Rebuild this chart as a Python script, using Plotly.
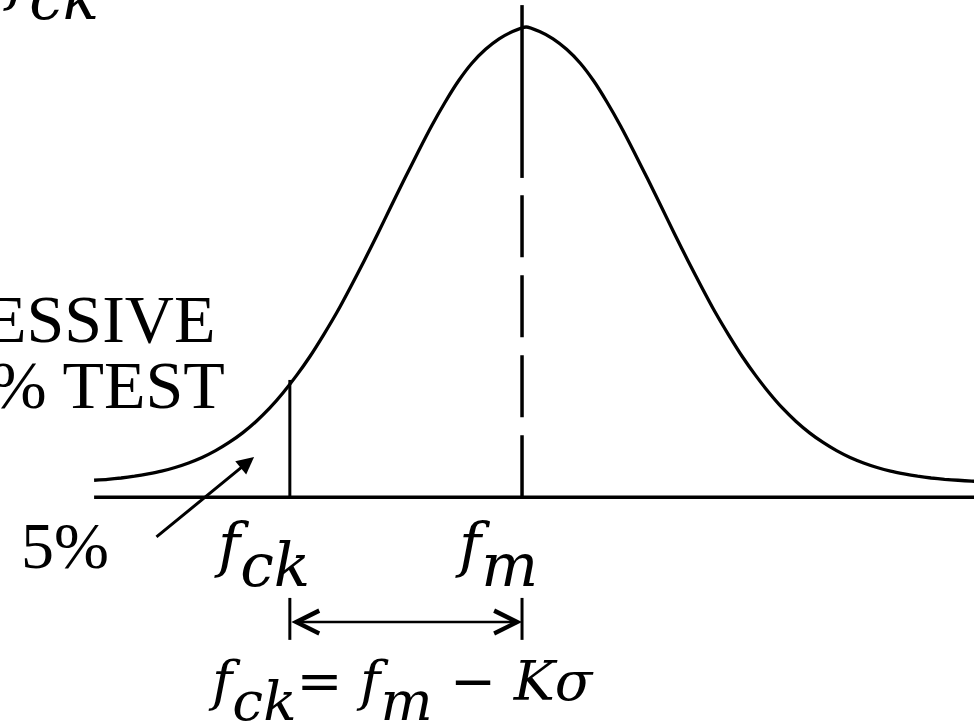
import plotly.graph_objects as go

# ---- data -----------------------------------------------------------------
# normal curve: position in units of sigma from the curve centre,
# height relative to the peak
curve_z = [-3.2, -3.1, -3.0, -2.9, -2.8, -2.7, -2.6, -2.5, -2.4, -2.3, -2.2,
           -2.1, -2.0, -1.9, -1.8, -1.7, -1.6, -1.5, -1.4, -1.3, -1.2, -1.1,
           -1.0, -0.9, -0.8, -0.7, -0.6, -0.5, -0.4, -0.3, -0.2, -0.1, 0.0,
           0.1, 0.2, 0.3, 0.4, 0.5, 0.6, 0.7, 0.8, 0.9, 1.0, 1.1, 1.2, 1.3,
           1.4, 1.5, 1.6, 1.7, 1.8, 1.9, 2.0, 2.1, 2.2, 2.3, 2.4, 2.5, 2.6,
           2.7, 2.8, 2.9, 3.0, 3.1, 3.2, 3.3, 3.4, 3.5]
curve_h = [0.006, 0.008, 0.011, 0.015, 0.020, 0.026, 0.034, 0.044, 0.056,
           0.071, 0.089, 0.110, 0.135, 0.164, 0.198, 0.236, 0.278, 0.325,
           0.375, 0.430, 0.487, 0.546, 0.607, 0.667, 0.726, 0.783, 0.835,
           0.882, 0.921, 0.951, 0.974, 0.990, 1.000,
           0.990, 0.974, 0.951, 0.921, 0.882, 0.835, 0.783, 0.726, 0.667,
           0.607, 0.546, 0.487, 0.430, 0.375, 0.325, 0.278, 0.236, 0.198,
           0.164, 0.135, 0.110, 0.089, 0.071, 0.056, 0.044, 0.034, 0.026,
           0.020, 0.015, 0.011, 0.008, 0.006, 0.004, 0.003, 0.002]
curve_centre = 0.03          # curve centre (sigma) relative to f_m line
f_m = 0.0                    # mean strength position
f_ck = -1.72                 # characteristic strength position
f_ck_height = 0.226          # curve height at f_ck
axis_level = -0.031          # baseline of the diagram
top_level = 1.048            # top of the f_m line
solid_from = 0.669           # f_m line is solid above this level
arrow_level = -0.305         # double arrow  f_ck <-> f_m
tick_top, tick_bottom = -0.252, -0.344
pct_tail = (-2.719, -0.121)  # "5%" pointer
pct_head = (-1.985, 0.057)
axis_left, axis_right = -3.17, 3.6
x_range = [-3.867, 3.348]
y_range = [-0.5241, 1.0592]

BLACK = "#000000"
SERIF = "Liberation Serif"
MATH = "DejaVu Serif"

fig = go.Figure()
fig.add_trace(go.Scatter(
    x=[z + curve_centre for z in curve_z], y=curve_h, mode="lines",
    line=dict(color=BLACK, width=3.3, shape="spline", smoothing=0.5),
    hoverinfo="skip", showlegend=False))

shapes = [
    dict(type="line", x0=axis_left, x1=axis_right, y0=axis_level, y1=axis_level,
         line=dict(color=BLACK, width=3.5)),
    dict(type="line", x0=f_ck, x1=f_ck, y0=axis_level, y1=f_ck_height,
         line=dict(color=BLACK, width=3)),
    dict(type="line", x0=f_m, x1=f_m, y0=axis_level, y1=solid_from,
         line=dict(color=BLACK, width=3.5, dash="62px,18px")),
    dict(type="line", x0=f_m, x1=f_m, y0=solid_from, y1=top_level,
         line=dict(color=BLACK, width=3.5)),
    dict(type="line", x0=f_ck, x1=f_ck, y0=tick_bottom, y1=tick_top,
         line=dict(color=BLACK, width=3)),
    dict(type="line", x0=f_m, x1=f_m, y0=tick_bottom, y1=tick_top,
         line=dict(color=BLACK, width=3)),
]
for s in shapes:
    s.update(xref="x", yref="y", layer="above")

S_LAB = "font-size:60px"
S_EQ = "font-size:55px"


def fck_text(style):
    return (f'<span style="{style}"><i>f</i></span>'
            f'<sub><span style="{style}"><i>ck</i></span></sub>')


def fm_text(style):
    return (f'<span style="{style}"><i>f</i></span>'
            f'<sub><span style="{style}"><i>m</i></span></sub>')


formula = (fck_text(S_EQ) + f'<span style="{S_EQ}">= </span>' + fm_text(S_EQ)
           + f'<span style="{S_EQ}"> − <i>Kσ</i></span>')

math_font = dict(family=MATH, size=95, color=BLACK)
serif_font = dict(family=SERIF, size=68, color=BLACK)

annotations = [
    # double arrow between f_ck and f_m
    dict(x=f_m, y=arrow_level, ax=f_ck, ay=arrow_level, xref="x", yref="y",
         axref="x", ayref="y", text="", showarrow=True, arrowside="end+start",
         arrowhead=5, startarrowhead=5, arrowsize=1.8, startarrowsize=1.8,
         arrowwidth=2.5, arrowcolor=BLACK, standoff=0, startstandoff=0),
    # 5% pointer
    dict(x=pct_head[0], y=pct_head[1], ax=pct_tail[0], ay=pct_tail[1],
         xref="x", yref="y", axref="x", ayref="y", text="", showarrow=True,
         arrowhead=2, arrowsize=1.15, arrowwidth=3, arrowcolor=BLACK, standoff=0),
    # labels
    dict(x=f_ck, y=-0.158, xref="x", yref="y", text=fck_text(S_LAB),
         showarrow=False, font=math_font, xanchor="center", yanchor="middle",
         xshift=-28),
    dict(x=f_m, y=-0.158, xref="x", yref="y", text=fm_text(S_LAB),
         showarrow=False, font=math_font, xanchor="center", yanchor="middle",
         xshift=-26),
    dict(x=(f_ck + f_m) / 2, y=-0.456, xref="x", yref="y", text=formula,
         showarrow=False, font=math_font, xanchor="center", yanchor="middle",
         xshift=-5),
    dict(x=0, y=1, xref="paper", yref="paper", text=fck_text(S_LAB),
         showarrow=False, font=math_font, xanchor="center", yanchor="middle",
         xshift=51, yshift=12),
    dict(x=-2.259, y=0.3596, xref="x", yref="y", text="ESSIVE",
         showarrow=False, font=serif_font, xanchor="right", yanchor="middle"),
    dict(x=-2.185, y=0.2149, xref="x", yref="y", text="% TEST",
         showarrow=False, font=serif_font, xanchor="right", yanchor="middle"),
    dict(x=-3.385, y=-0.138, xref="x", yref="y", text="5%",
         showarrow=False, font=dict(family=SERIF, size=66, color=BLACK),
         xanchor="center", yanchor="middle"),
]

fig.update_layout(
    width=974, height=722,
    margin=dict(l=0, r=0, t=0, b=0),
    paper_bgcolor="white", plot_bgcolor="white",
    xaxis=dict(range=x_range, visible=False, fixedrange=True),
    yaxis=dict(range=y_range, visible=False, fixedrange=True),
    shapes=shapes, annotations=annotations, showlegend=False,
)

# the page's default body margin would push the 974x722 figure off the window
fig.write_html("out.html",
               config={"displayModeBar": False, "staticPlot": True},
               post_script="document.body.style.margin='0';"
                           "document.body.style.overflow='hidden';")
